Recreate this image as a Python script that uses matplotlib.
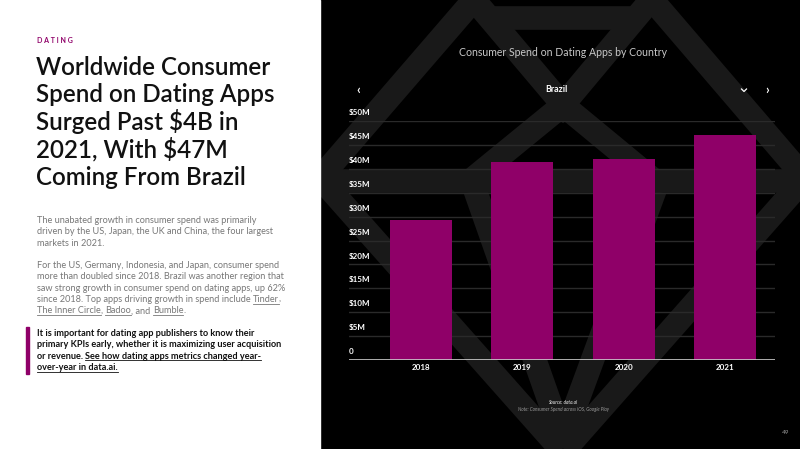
import matplotlib
matplotlib.use("Agg")
import matplotlib.pyplot as plt
import numpy as np

# ---------------- data ----------------
years = ["2018", "2019", "2020", "2021"]
spend_musd = [29.2, 41.5, 42.0, 47.1]
ytick_vals = [0, 5, 10, 15, 20, 25, 30, 35, 40, 45, 50]
ytick_labels = ["0", "$5M", "$10M", "$15M", "$20M", "$25M", "$30M", "$35M",
                "$40M", "$45M", "$50M"]

kicker = "D A T I N G"
headline = ["Worldwide Consumer", "Spend on Dating Apps", "Surged Past $4B in",
            "2021, With $47M", "Coming From Brazil"]
para1 = [[("The unabated growth in consumer spend was primarily", False)],
         [("driven by the US, Japan, the UK and China, the four largest", False)],
         [("markets in 2021.", False)]]
para2 = [[("For the US, Germany, Indonesia, and Japan, consumer spend", False)],
         [("more than doubled since 2018. Brazil was another region that", False)],
         [("saw strong growth in consumer spend on dating apps, up 62%", False)],
         [("since 2018. Top apps driving growth in spend include ", False), ("Tinder", True), (",", False)],
         [("The Inner Circle", True), (", ", False), ("Badoo", True), (", and ", False), ("Bumble", True), (".", False)]]
para3 = [[("It is important for dating app publishers to know their", False)],
         [("primary KPIs early, whether it is maximizing user acquisition", False)],
         [("or revenue. ", False), ("See how dating apps metrics changed year-", True)],
         [("over-year in data.ai.", True)]]
chart_title = "Consumer Spend on Dating Apps by Country"
country = "Brazil"
source = "Source: data.ai"
note = "Note: Consumer Spend across iOS, Google Play"
page = "49"

MAGENTA = "#8f0068"
FONT = ["Lato", "DejaVu Sans"]
plt.rcParams["font.family"] = FONT

fig = plt.figure(figsize=(8, 4.49), dpi=100)
fig.patch.set_facecolor("white")

# background canvas in pixel coordinates
bg = fig.add_axes([0, 0, 1, 1])
bg.set_xlim(0, 800)
bg.set_ylim(449, 0)
bg.axis("off")
bg.add_patch(plt.Rectangle((320, 0), 480, 449, color="black", zorder=0))

# decorative gem outline
G = "#191919"
lw = 17
segs = [
    [(478, -5), (320, 178)],
    [(648, -5), (805, 178)],
    [(320, 178), (563, 452)],
    [(805, 178), (563, 452)],
    [(320, 181), (800, 181)],
    [(470, -5), (563, 105), (655, -5)],
    [(470, 181), (563, 105), (655, 181)],
    [(475, 190), (563, 440)],
    [(655, 190), (563, 440)],
    [(490, 18), (640, 18)],
]
for s in segs:
    xs, ys = zip(*s)
    bg.plot(xs, ys, color=G, lw=lw, solid_capstyle="butt", solid_joinstyle="miter", zorder=1)
bg.add_patch(plt.Rectangle((0, 0), 320, 449, color="white", zorder=2))

renderer = fig.canvas.get_renderer()


def draw_runs(x, y, runs, size, color, weight="normal"):
    cx = x
    for txt, ul in runs:
        t = bg.text(cx, y, txt, fontsize=size, color=color, weight=weight,
                    ha="left", va="baseline", zorder=5)
        ext = t.get_window_extent(renderer)
        w = ext.width
        if ul:
            bg.plot([cx, cx + w], [y + 1.8, y + 1.8], color=color, lw=0.6, zorder=5)
        cx += w


# left panel text
bg.text(37, 43, kicker, fontsize=5, color=MAGENTA, weight="bold", ha="left",
        va="baseline", zorder=5)
for i, line in enumerate(headline):
    bg.text(36, 75 + i * 27.5, line, fontsize=17.4, color="#111111", weight="semibold",
            ha="left", va="baseline", zorder=5)
for i, runs in enumerate(para1):
    draw_runs(37, 223 + i * 11.3, runs, 6.6, "#777777")
for i, runs in enumerate(para2):
    draw_runs(37, 268 + i * 11.3, runs, 6.6, "#777777")
for i, runs in enumerate(para3):
    draw_runs(37, 336 + i * 11.3, runs, 6.6, "#111111", weight="bold")
bg.add_patch(plt.Rectangle((26, 327), 2.5, 47, color=MAGENTA, zorder=5))

# right panel texts
bg.text(563, 52, chart_title, fontsize=7.6, color="#c8c8c8", ha="center",
        va="center", zorder=5, weight="normal")
bg.text(556, 90, country, fontsize=6.4, color="white", ha="center", va="center",
        weight="bold", zorder=5)
bg.text(358, 90, "\u2039", fontsize=9, color="white", ha="center", va="center", weight="bold", zorder=5)
bg.text(767, 90, "\u203a", fontsize=9, color="white", ha="center", va="center", weight="bold", zorder=5)
bg.plot([741.5, 744, 746.5], [89, 91.5, 89], color="white", lw=0.9, zorder=5)
bg.text(563, 402, source, fontsize=3.3, color="#bbbbbb", ha="center", va="center",
        style="italic", weight="bold", zorder=5)
bg.text(563, 409.5, note, fontsize=3.3, color="#999999", ha="center", va="center",
        style="italic", zorder=5)
bg.text(786, 433, page, fontsize=4.6, color="#999999", ha="center", va="center", zorder=5)

# chart axes
ax = fig.add_axes([349 / 800, (449 - 360) / 449, (775 - 349) / 800, (360 - 121) / 449])
ax.set_facecolor("none")
x = np.arange(len(years))
ax.bar(x, spend_musd, width=0.61, color=MAGENTA, zorder=3)
ax.set_xlim(-0.705, 3.49)
ax.set_ylim(0, 50)
for v in ytick_vals[1:]:
    ax.axhline(v, color="#2a2a2a", lw=1.0, zorder=1)
ax.axhline(0, color="#cccccc", lw=1.2, zorder=4)
for v, lab in zip(ytick_vals, ytick_labels):
    ax.annotate(lab, xy=(0, v), xycoords=("axes fraction", "data"),
                xytext=(0, 3.5), textcoords="offset points", ha="left", va="bottom",
                fontsize=5.8, color="white", weight="bold")
ax.set_xticks(x)
ax.set_xticklabels(years, fontsize=5.8, color="white", weight="bold")
ax.tick_params(axis="x", length=0, pad=3)
ax.set_yticks([])
for sp in ax.spines.values():
    sp.set_visible(False)

fig.savefig("out.png", dpi=100, facecolor=fig.get_facecolor())
